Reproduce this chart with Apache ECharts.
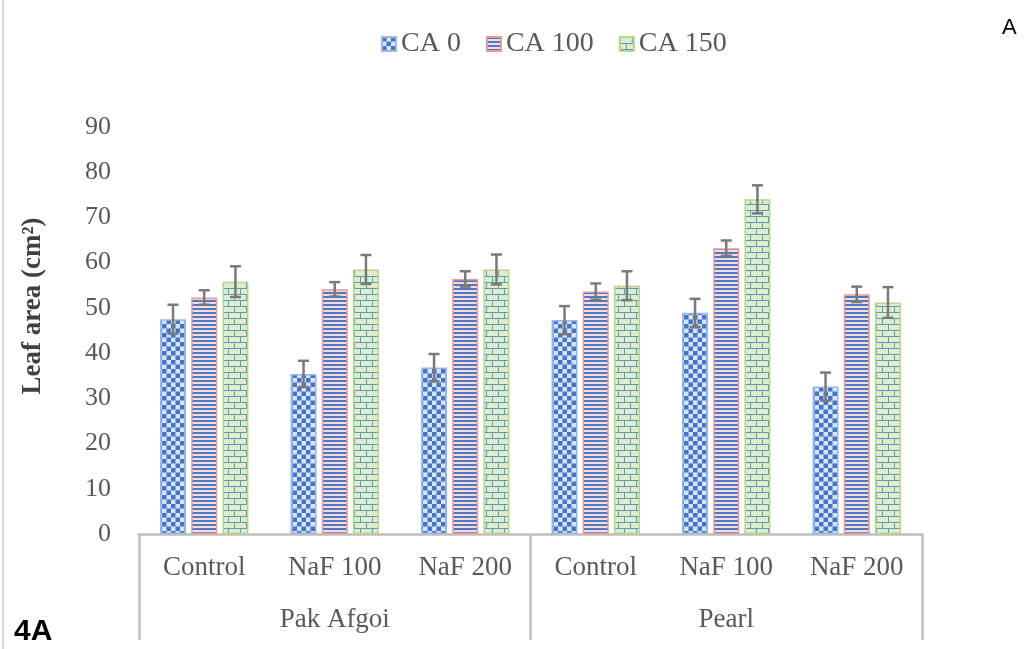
<!DOCTYPE html>
<html>
<head>
<meta charset="utf-8">
<script src="https://cdn.jsdelivr.net/npm/echarts@6/dist/echarts.min.js"></script>
<style>
  html, body { margin: 0; padding: 0; background: #fff; }
  #chart { width: 1034px; height: 649px; }
</style>
</head>
<body>
<div id="chart"></div>
<script>
// Leaf area (cm²) by NaF treatment and CA level, for two cultivars
const categories = ['Control', 'NaF 100', 'NaF 200', 'Control', 'NaF 100', 'NaF 200'];
const groups = ['Pak Afgoi', 'Pearl'];
const seriesNames = ['CA 0', 'CA 100', 'CA 150'];
const ca0 = [47.5, 35.4, 36.8, 47.3, 48.9, 32.6];
const ca0Err = [3.2, 2.9, 3.0, 3.1, 3.1, 3.1];
const ca100 = [52.3, 54.1, 56.4, 53.6, 63.2, 53.0];
const ca100Err = [1.6, 1.6, 1.7, 1.8, 1.7, 1.7];
const ca150 = [55.8, 58.5, 58.5, 54.9, 74.0, 51.2];
const ca150Err = [3.4, 3.2, 3.3, 3.2, 3.1, 3.4];
const yTicks = [0, 10, 20, 30, 40, 50, 60, 70, 80, 90];

const BAR_W = 26;
const BAR_GAP = 0.2;
const SERIF = '"Liberation Serif", "Times New Roman", serif';
const SANS = '"Liberation Sans", Arial, sans-serif';

// Fill patterns
function checkerPattern() {
  const c = document.createElement('canvas');
  c.width = 9; c.height = 9;
  const g = c.getContext('2d');
  g.fillStyle = '#d9e3f4'; g.fillRect(0, 0, 9, 9);
  g.fillStyle = '#4274c8';
  g.fillRect(0, 0, 4.5, 4.5); g.fillRect(4.5, 4.5, 4.5, 4.5);
  return c;
}
function stripePattern() {
  const c = document.createElement('canvas');
  c.width = 4; c.height = 4;
  const g = c.getContext('2d');
  g.fillStyle = '#f5dcdc'; g.fillRect(0, 0, 4, 4);
  g.fillStyle = '#5078c2'; g.fillRect(0, 0, 4, 2);
  return c;
}
function brickPattern() {
  const c = document.createElement('canvas');
  c.width = 12; c.height = 12;
  const g = c.getContext('2d');
  g.fillStyle = '#e0edcd'; g.fillRect(0, 0, 12, 12);
  g.fillStyle = '#5b9bb6';
  g.fillRect(0, 0, 12, 1);
  g.fillRect(0, 6, 12, 1);
  g.fillRect(0, 0, 1, 6);
  g.fillRect(6, 6, 1, 6);
  return c;
}

const fills = [
  { image: checkerPattern(), repeat: 'repeat' },
  { image: stripePattern(), repeat: 'repeat' },
  { image: brickPattern(), repeat: 'repeat' }
];
const borders = ['#9bb6e3', '#e29a9a', '#b9d48f'];
const values = [ca0, ca100, ca150];
const errors = [ca0Err, ca100Err, ca150Err];

const chart = echarts.init(document.getElementById('chart'), null, { renderer: 'canvas' });

const barSeries = seriesNames.map((name, k) => ({
  name,
  type: 'bar',
  xAxisIndex: 0,
  barWidth: BAR_W,
  barGap: (BAR_GAP * 100) + '%',
  data: values[k],
  itemStyle: { color: fills[k], borderColor: borders[k], borderWidth: 1.5 },
  emphasis: { disabled: true },
  z: 2
}));

// Error bars (mean ± error), centred on each bar of the group
const errSeries = seriesNames.map((name, k) => ({
  type: 'custom',
  xAxisIndex: 0,
  data: values[k].map((v, i) => [i, v, errors[k][i]]),
  z: 5,
  silent: true,
  renderItem(params, api) {
    const i = api.value(0), v = api.value(1), e = api.value(2);
    const off = (k - 1) * BAR_W * (1 + BAR_GAP);
    const hi = api.coord([i, v + e]);
    const lo = api.coord([i, v - e]);
    const x = hi[0] + off;
    const cap = 5.5;
    const style = { stroke: '#7a7a7a', lineWidth: 2.5 };
    return {
      type: 'group',
      children: [
        { type: 'line', shape: { x1: x, y1: hi[1], x2: x, y2: lo[1] }, style },
        { type: 'line', shape: { x1: x - cap, y1: hi[1], x2: x + cap, y2: hi[1] }, style },
        { type: 'line', shape: { x1: x - cap, y1: lo[1], x2: x + cap, y2: lo[1] }, style }
      ]
    };
  }
}));

chart.setOption({
  animation: false,
  backgroundColor: '#ffffff',
  legend: {
    data: seriesNames,
    left: 376,
    top: 25,
    icon: 'rect',
    itemWidth: 14,
    itemHeight: 14,
    itemGap: 25,
    textStyle: { fontFamily: SERIF, fontSize: 28, color: '#595959' }
  },
  grid: { left: 139, right: 112, top: 127, bottom: 115, containLabel: false },
  xAxis: [
    {
      type: 'category',
      data: categories,
      position: 'bottom',
      axisLine: { lineStyle: { color: '#bfbfbf', width: 2.5 } },
      axisTick: { show: false },
      axisLabel: { fontFamily: SERIF, fontSize: 27, color: '#595959', margin: 20, interval: 0 }
    },
    {
      type: 'category',
      data: groups,
      position: 'bottom',
      axisLine: { show: false },
      axisTick: { show: true, length: 106, lineStyle: { color: '#bfbfbf', width: 2.5 } },
      axisLabel: { fontFamily: SERIF, fontSize: 27, color: '#595959', margin: 72, interval: 0 }
    }
  ],
  yAxis: {
    type: 'value',
    min: yTicks[0],
    max: yTicks[yTicks.length - 1],
    interval: 10,
    axisLine: { show: false },
    axisTick: { show: false },
    splitLine: { show: false },
    axisLabel: { fontFamily: SERIF, fontSize: 26, color: '#595959', margin: 28 }
  },
  graphic: [
    {
      type: 'text',
      x: 33, y: 306,
      rotation: Math.PI / 2,
      style: {
        text: 'Leaf area (cm²)',
        font: 'bold 27px ' + SERIF,
        fill: '#404040',
        align: 'center',
        verticalAlign: 'middle'
      }
    },
    {
      type: 'text',
      left: 14, top: 617,
      style: { text: '4A', font: 'bold 30px ' + SANS, fill: '#000' }
    },
    {
      type: 'text',
      left: 1002, top: 17,
      style: { text: 'A', font: '22px ' + SANS, fill: '#000' }
    },
    {
      type: 'line',
      shape: { x1: 3, y1: 0, x2: 3, y2: 649 },
      style: { stroke: '#d9d9d9', lineWidth: 2 }
    }
  ],
  series: [...barSeries, ...errSeries]
});
</script>
</body>
</html>
